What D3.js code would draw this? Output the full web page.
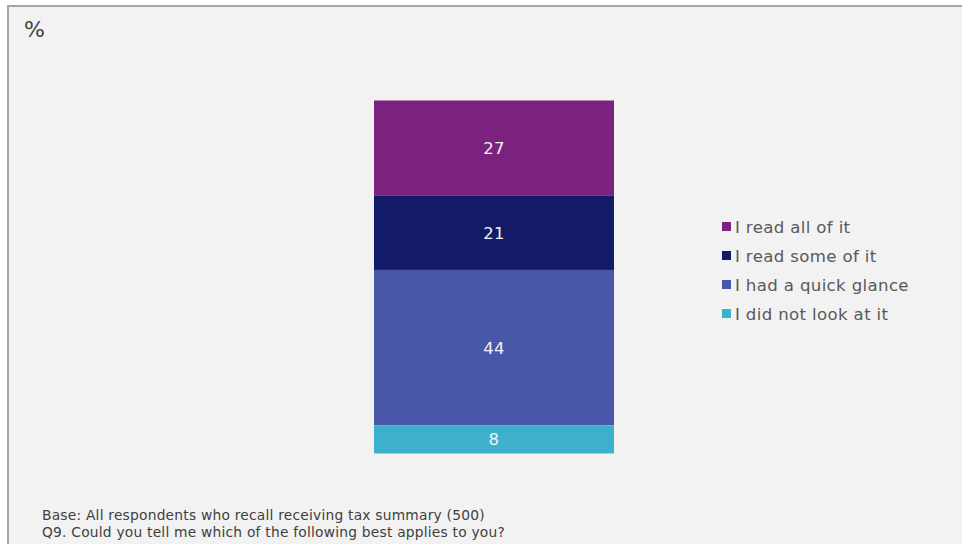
<!DOCTYPE html>
<html>
<head>
<meta charset="utf-8">
<script src="https://cdn.jsdelivr.net/npm/d3@7"></script>
<style>
  html, body { margin: 0; padding: 0; background: #ffffff; }
  svg { display: block; }
  text { font-family: Verdana, "DejaVu Sans", sans-serif; }
</style>
</head>
<body>
<script>
// Response categories, top to bottom of the stack
const categories = ["I read all of it", "I read some of it", "I had a quick glance", "I did not look at it"];
const values = [27, 21, 44, 8];
const colors = ["#7a227e", "#131b69", "#4857a8", "#3db1cc"];
const notes = [
  "Base: All respondents who recall receiving tax summary (500)",
  "Q9. Could you tell me which of the following best applies to you?"
];

const W = 962, H = 544;
const svg = d3.select("body").append("svg").attr("width", W).attr("height", H);

// Panel background and frame
svg.append("rect").attr("x", 9).attr("y", 6).attr("width", W - 9).attr("height", H - 6).attr("fill", "#f2f2f2");
svg.append("line").attr("x1", 8).attr("x2", W).attr("y1", 6).attr("y2", 6).attr("stroke", "#a6a6a6").attr("stroke-width", 2);
svg.append("line").attr("x1", 8).attr("x2", 8).attr("y1", 5).attr("y2", H).attr("stroke", "#a6a6a6").attr("stroke-width", 2);

svg.append("text").attr("x", 24).attr("y", 37).attr("font-size", 22).attr("fill", "#404040").text("%");

// Stacked layout
let acc = 0;
const stacked = values.map((v, i) => { const s = { cat: categories[i], v, y0: acc, y1: acc + v, color: colors[i] }; acc += v; return s; });

const y = d3.scaleLinear().domain([0, 100]).range([100.5, 453.5]);
const x = d3.scaleBand().domain(["all"]).range([374, 614]).padding(0);

const g = svg.append("g");
g.selectAll("rect.seg").data(stacked).join("rect")
  .attr("class", "seg")
  .attr("x", x("all"))
  .attr("width", x.bandwidth())
  .attr("y", d => y(d.y0))
  .attr("height", d => y(d.y1) - y(d.y0))
  .attr("fill", d => d.color);

g.selectAll("text.lbl").data(stacked).join("text")
  .attr("class", "lbl")
  .attr("x", x("all") + x.bandwidth() / 2)
  .attr("y", d => (y(d.y0) + y(d.y1)) / 2)
  .attr("dy", "0.36em")
  .attr("text-anchor", "middle")
  .attr("font-size", 16.5)
  .attr("letter-spacing", 0.3)
  .attr("fill", "#f2f2f2")
  .text(d => d.v);

// Legend
const leg = svg.append("g").attr("transform", "translate(722,227)");
const items = leg.selectAll("g").data(stacked).join("g").attr("transform", (d, i) => `translate(0,${i * 29})`);
items.append("rect").attr("x", 0).attr("y", -5).attr("width", 9).attr("height", 9).attr("fill", d => d.color);
items.append("text").attr("x", 13).attr("y", 0).attr("dy", "0.36em").attr("font-size", 16.6)
  .attr("letter-spacing", 0.35).attr("fill", "#595959").text(d => d.cat);

// Footnotes
svg.selectAll("text.note").data(notes).join("text")
  .attr("class", "note")
  .attr("x", 42)
  .attr("y", (d, i) => 520 + i * 17)
  .attr("font-size", 13.8)
  .attr("letter-spacing", 0.22)
  .attr("fill", "#404040")
  .text(d => d);
</script>
</body>
</html>
